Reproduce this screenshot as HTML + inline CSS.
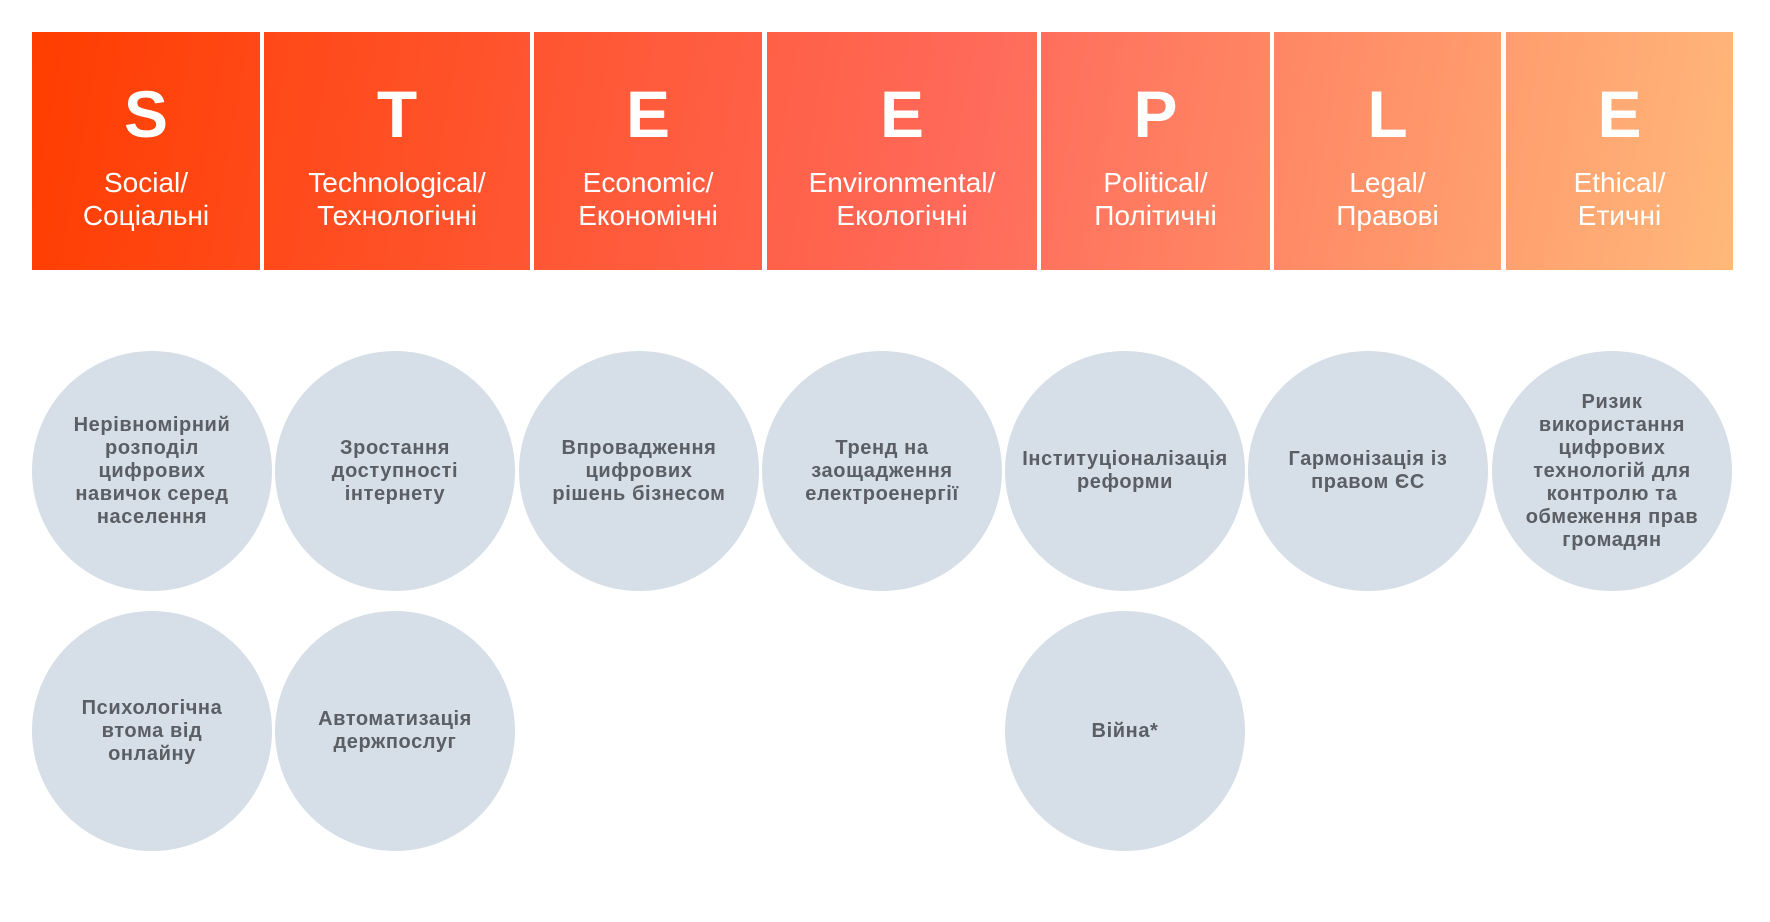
<!DOCTYPE html>
<html><head><meta charset="utf-8"><style>
body{margin:0;width:1770px;height:922px;background:#fff;position:relative;overflow:hidden;font-family:"Liberation Sans",sans-serif}
.h{position:absolute;top:32px;height:238px;color:#fff;text-align:center;
background:linear-gradient(100deg,#ff3d00 0%,#ff5a3a 35%,#ff6a5a 55%,#ff8c66 75%,#ffb87a 100%);background-size:1701px 238px}
.h .l{position:absolute;left:0;right:0;top:44px;font-size:66px;font-weight:bold;line-height:76px}
.h .t{position:absolute;left:0;right:0;top:134px;font-size:28px;line-height:33px;white-space:nowrap}
.c{position:absolute;width:240px;height:240px;border-radius:50%;background:#d6dee7;display:flex;align-items:center;justify-content:center;text-align:center;color:#5a5e65;font-weight:bold;font-size:20px;line-height:23px;letter-spacing:0.6px;white-space:nowrap}
</style></head><body>
<div class="h" style="left:32px;width:228px;background-position:0 0"><div class="l">S</div><div class="t">Social/<br>Соціальні</div></div>
<div class="h" style="left:264px;width:266px;background-position:-232px 0"><div class="l">T</div><div class="t">Technological/<br>Технологічні</div></div>
<div class="h" style="left:534px;width:228px;background-position:-502px 0"><div class="l">E</div><div class="t">Economic/<br>Економічні</div></div>
<div class="h" style="left:767px;width:270px;background-position:-735px 0"><div class="l">E</div><div class="t">Environmental/<br>Екологічні</div></div>
<div class="h" style="left:1041px;width:229px;background-position:-1009px 0"><div class="l">P</div><div class="t">Political/<br>Політичні</div></div>
<div class="h" style="left:1274px;width:227px;background-position:-1242px 0"><div class="l">L</div><div class="t">Legal/<br>Правові</div></div>
<div class="h" style="left:1506px;width:227px;background-position:-1474px 0"><div class="l">E</div><div class="t">Ethical/<br>Етичні</div></div>

<div class="c" style="left:32px;top:351px"><span>Нерівномірний<br>розподіл<br>цифрових<br>навичок серед<br>населення</span></div>
<div class="c" style="left:275px;top:351px"><span>Зростання<br>доступності<br>інтернету</span></div>
<div class="c" style="left:519px;top:351px"><span>Впровадження<br>цифрових<br>рішень бізнесом</span></div>
<div class="c" style="left:762px;top:351px"><span>Тренд на<br>заощадження<br>електроенергії</span></div>
<div class="c" style="left:1005px;top:351px"><span>Інституціоналізація<br>реформи</span></div>
<div class="c" style="left:1248px;top:351px"><span>Гармонізація із<br>правом ЄС</span></div>
<div class="c" style="left:1492px;top:351px"><span>Ризик<br>використання<br>цифрових<br>технологій для<br>контролю та<br>обмеження прав<br>громадян</span></div>
<div class="c" style="left:32px;top:611px"><span>Психологічна<br>втома від<br>онлайну</span></div>
<div class="c" style="left:275px;top:611px"><span>Автоматизація<br>держпослуг</span></div>
<div class="c" style="left:1005px;top:611px"><span>Війна*</span></div>
</body></html>
